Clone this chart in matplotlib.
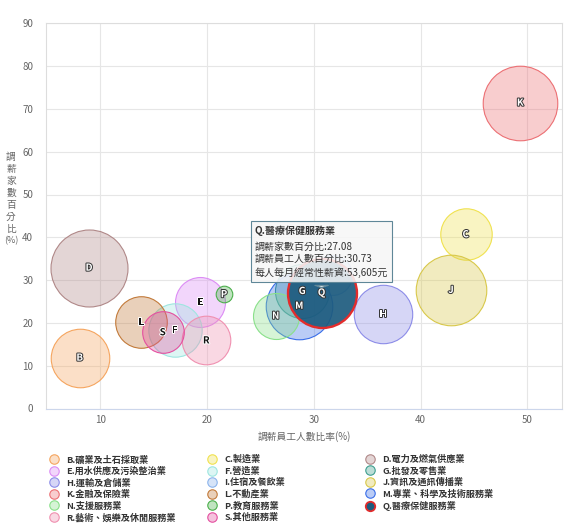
import matplotlib
matplotlib.use('Agg')
import matplotlib.pyplot as plt
import matplotlib.patheffects as pe
from matplotlib.colors import to_rgba
from matplotlib.lines import Line2D
from matplotlib.offsetbox import TextArea, VPacker, AnnotationBbox
import numpy as np

plt.rcParams['font.family'] = ['Noto Sans CJK TC', 'DejaVu Sans']

# 行業代碼與名稱
codes = ['B', 'C', 'D', 'E', 'F', 'G', 'H', 'I', 'J', 'K', 'L', 'M', 'N', 'P', 'Q', 'R', 'S']
names = ['礦業及土石採取業', '製造業', '電力及燃氣供應業', '用水供應及污染整治業', '營造業',
         '批發及零售業', '運輸及倉儲業', '住宿及餐飲業', '資訊及通訊傳播業', '金融及保險業',
         '不動產業', '專業、科學及技術服務業', '支援服務業', '教育服務業', '醫療保健服務業',
         '藝術、娛樂及休閒服務業', '其他服務業']

# 調薪員工人數比率(%)
staff_pct = [8.07, 44.23, 8.94, 19.37, 16.97, 28.91, 36.51, 31.68, 42.85, 49.34,
             13.84, 28.64, 26.43, 21.59, 30.73, 19.93, 15.85]
# 調薪家數百分比(%)
firm_pct = [11.87, 40.7, 32.9, 24.8, 18.27, 27.45, 22.08, 31.1, 27.7, 71.45,
            20.14, 24.0, 21.66, 26.7, 27.08, 15.9, 17.8]
# 每人每月經常性薪資(元)
salary = [43700, 38200, 62700, 37200, 39600, 40100, 43600, 31500, 55300, 59800,
          38300, 51100, 34700, 26000, 53605, 36300, 32300]

colors = ['#f5a55f', '#f0e250', '#b08888', '#dc8cf5', '#9ee6e0', '#3f9f8f', '#8c8ce8',
          '#8cb4ec', '#d8c84a', '#ec7074', '#c27a3a', '#3a6ee8', '#8ae08a', '#4cb04c',
          '#1d5b7e', '#f090b0', '#e450a0']
dark_labels = ['E', 'F', 'L', 'R', 'S']
hidden_labels = ['I']   # 被提示框遮住
ylabel_parts = ['調', '薪', '家', '數', '百', '分', '比', '(%)']

DPI = 100
fig = plt.figure(figsize=(5.69, 5.29), dpi=DPI)
ax = fig.add_axes([45.7 / 569, 1 - 408.5 / 529, (562.3 - 45.7) / 569, (408.5 - 23.3) / 529])

# 氣泡大小 (依面積)
z = np.array(salary, dtype=float)
r_px = 8.3 + np.sqrt((z - z.min()) / (z.max() - z.min())) * (38.5 - 8.3)
sizes = (2 * r_px * 72 / DPI) ** 2

for i, code in enumerate(codes):
    if code == 'Q':
        fc = to_rgba(colors[i], 0.92)
        ec = '#e32c2c'
        lw = 1.7
    else:
        fc = to_rgba(colors[i], 0.35)
        ec = colors[i]
        lw = 0.8
    ax.scatter(staff_pct[i], firm_pct[i], s=sizes[i], facecolor=fc, edgecolor=ec,
               linewidth=lw, zorder=3 + i)

for i, code in enumerate(codes):
    if code in hidden_labels:
        continue
    if code in dark_labels:
        col, stroke = '#111111', 'white'
    else:
        col, stroke = 'white', '#333333'
    ax.text(staff_pct[i], firm_pct[i], code, ha='center', va='center', fontsize=7,
            fontweight='bold', color=col, zorder=30,
            path_effects=[pe.withStroke(linewidth=1.4, foreground=stroke)])

ax.set_xlim(4.885, 53.28)
ax.set_ylim(0, 90)
ax.set_xticks([10, 20, 30, 40, 50])
ax.set_yticks(range(0, 91, 10))
ax.grid(True, color='#e6e6e6', linewidth=0.8, zorder=0)
ax.set_axisbelow(True)
for side in ['top', 'right', 'left']:
    ax.spines[side].set_color('#dddddd')
    ax.spines[side].set_linewidth(0.8)
ax.spines['bottom'].set_color('#ccd6eb')
ax.spines['bottom'].set_linewidth(0.8)
ax.tick_params(length=0, labelsize=7, colors='#666666')
ax.tick_params(axis='y', pad=9)
ax.tick_params(axis='x', pad=5)

ax.set_xlabel('調薪員工人數比率(%)', fontsize=7, color='#666666', labelpad=4)
# 直排 y 軸標題, 逐字排列
for k, part in enumerate(ylabel_parts):
    fig.text(11 / 569, 1 - (157 + 12.0 * k) / 529, part, fontsize=7 if k < 7 else 6.5,
             color='#666666', ha='center', va='center', rotation=0)

# 提示框
qi = codes.index('Q')
title = TextArea(f'Q.{names[qi]}', textprops=dict(fontsize=7.2, fontweight='bold', color='#333333'))
body = TextArea(f'調薪家數百分比:{firm_pct[qi]:.2f}\n調薪員工人數百分比:{staff_pct[qi]:.2f}\n'
                f'每人每月經常性薪資:{salary[qi]:,}元',
                textprops=dict(fontsize=7.2, color='#333333', linespacing=1.35))
pack = VPacker(children=[title, body], align='left', pad=0, sep=4)
ab = AnnotationBbox(pack, (staff_pct[qi], firm_pct[qi]), xybox=(0, 10.5),
                    xycoords='data', boxcoords='offset points', box_alignment=(0.5, 0),
                    pad=0.85,
                    bboxprops=dict(boxstyle='square', facecolor=to_rgba('#f7f7f7', 0.88),
                                   edgecolor='#5f8798', linewidth=0.8),
                    arrowprops=dict(arrowstyle='wedge,tail_width=0.7,shrink_factor=0.5',
                                    facecolor=to_rgba('#f7f7f7', 0.88), edgecolor='#5f8798',
                                    linewidth=0.8, shrinkB=3.6),
                    zorder=40)
ax.add_artist(ab)

# 圖例 (三欄)
handles = []
for i, code in enumerate(codes):
    if code == 'Q':
        h = Line2D([], [], marker='o', linestyle='', markersize=6.8,
                   markerfacecolor=colors[i], markeredgecolor='#e32c2c', markeredgewidth=1.3)
    else:
        h = Line2D([], [], marker='o', linestyle='', markersize=6.8,
                   markerfacecolor=to_rgba(colors[i], 0.35), markeredgecolor=colors[i],
                   markeredgewidth=0.8)
    handles.append(h)
labels = [f'{c}.{n}' for c, n in zip(codes, names)]

col_x = [49 / 569, 207 / 569, 365 / 569]
for c in range(3):
    leg = fig.legend(handles[c::3], labels[c::3], loc='upper left',
                     bbox_to_anchor=(col_x[c], 1 - 455 / 529), frameon=False,
                     prop=dict(size=6.6, weight='bold'), labelspacing=0.26,
                     handletextpad=0.9, handlelength=1.0, borderpad=0, borderaxespad=0)
    for t in leg.get_texts():
        t.set_color('#333333')

fig.savefig('out.png', dpi=DPI)
